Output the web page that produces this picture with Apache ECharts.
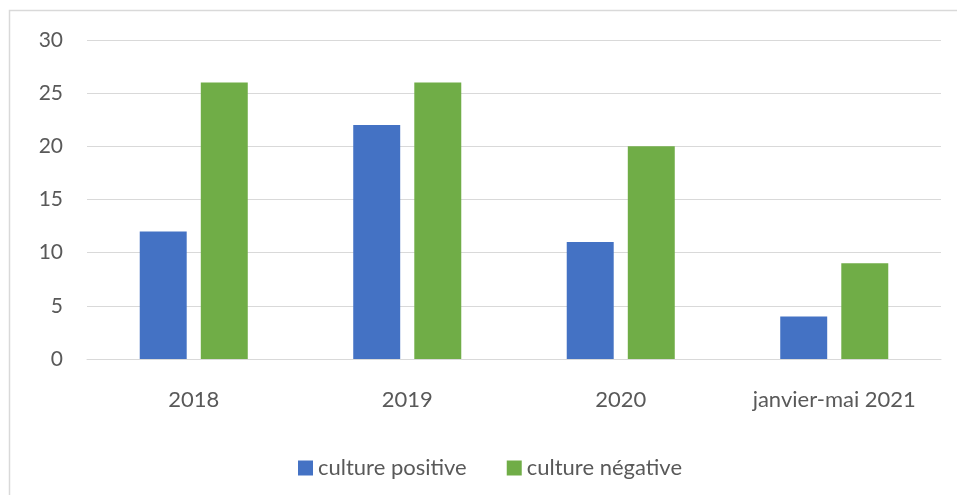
<!DOCTYPE html>
<html>
<head>
<meta charset="utf-8">
<script src="https://cdn.jsdelivr.net/npm/echarts@6/dist/echarts.min.js"></script>
<style>
html,body{margin:0;padding:0;background:#fff;}
#chart{width:957px;height:495px;}
</style>
</head>
<body>
<div id="chart"></div>
<script>
// Periods on the x axis
const categories = ['2018', '2019', '2020', 'janvier-mai 2021'];
// Counts per period
const culturePositive = [12, 22, 11, 4];
const cultureNegative = [26, 26, 20, 9];
// Y axis range
const yMin = 0, yMax = 30, yStep = 5;

const textColor = '#595959';
const fontFamily = 'Lato, "Open Sans", sans-serif';
const fontSize = 21;
const labelSize = 22;

const chart = echarts.init(document.getElementById('chart'));
chart.setOption({
  animation: false,
  backgroundColor: '#ffffff',
  textStyle: { fontFamily: fontFamily },
  graphic: [{
    type: 'rect',
    shape: { x: 9.5, y: 10.5, width: 1000, height: 600 },
    style: { fill: 'none', stroke: '#d9d9d9', lineWidth: 1.5 },
    silent: true
  }],
  grid: { left: 87, right: 16, top: 40, bottom: 136 },
  legend: {
    top: 452,
    left: 293,
    itemWidth: 15,
    itemHeight: 15,
    itemGap: 40,
    icon: 'rect',
    textStyle: { color: textColor, fontSize: labelSize, fontFamily: fontFamily },
    data: ['culture positive', 'culture négative']
  },
  xAxis: {
    type: 'category',
    data: categories,
    axisLine: { show: true, lineStyle: { color: '#d9d9d9', width: 1 } },
    axisTick: { show: false },
    axisLabel: { color: textColor, fontSize: labelSize, margin: 30, fontFamily: fontFamily }
  },
  yAxis: {
    type: 'value',
    min: yMin,
    max: yMax,
    interval: yStep,
    axisLine: { show: false },
    axisTick: { show: false },
    axisLabel: { color: textColor, fontSize: fontSize, margin: 24, fontFamily: fontFamily },
    splitLine: { lineStyle: { color: '#d9d9d9', width: 1 } }
  },
  series: [
    {
      name: 'culture positive',
      type: 'bar',
      data: culturePositive,
      itemStyle: { color: '#4472C4' },
      barWidth: '22%',
      barGap: '30%'
    },
    {
      name: 'culture négative',
      type: 'bar',
      data: cultureNegative,
      itemStyle: { color: '#70AD47' },
      barWidth: '22%',
      barGap: '30%'
    }
  ]
});
</script>
</body>
</html>
